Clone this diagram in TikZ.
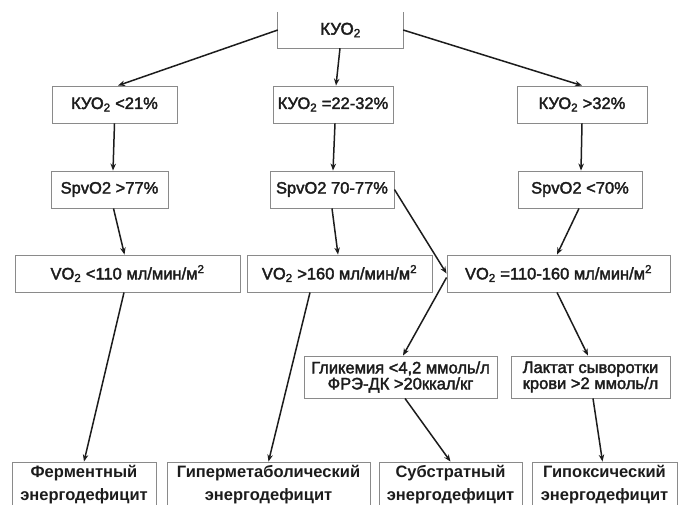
\documentclass[tikz,border=0pt]{standalone}
\usepackage{fontspec}
\setmainfont{Liberation Sans}[FakeBold=2.2]
\newfontfamily\endfont{Liberation Sans}
\usetikzlibrary{arrows.meta}
\definecolor{boxgray}{HTML}{8A8A8A}
\definecolor{ink}{HTML}{1C1C1C}
\tikzset{
  box/.style={draw=boxgray, line width=0.9pt, text=ink, inner sep=0pt, align=center,
    font=\fontsize{16.5}{16}\selectfont},
  openbox/.style={draw=none, text=ink, inner sep=0pt, align=center,
    font=\fontsize{17}{17}\selectfont},
  endbox/.style={draw=boxgray, line width=0.9pt, text=ink, inner sep=0pt, align=center,
    font=\endfont\bfseries\fontsize{16.5}{23}\selectfont},
  arr/.style={draw=ink, line width=1.5pt, -{Stealth[length=7pt,width=5.5pt]}},
}
\begin{document}
\begin{tikzpicture}[x=1pt,y=-1pt]
\useasboundingbox (0,0) rectangle (678,504);
% row 1
\node[openbox, minimum width=125, minimum height=36] (top) at (340.5,30) {КУО\textsubscript{2}};
\draw[boxgray, line width=0.9pt] (top.north west) -- (top.south west) -- (top.south east) -- (top.north east);
% row 2
\node[box, minimum width=125, minimum height=37] (b1) at (114.5,104.5) {КУО\textsubscript{2} <21\%};
\node[box, minimum width=120, minimum height=37] (b2) at (333,104.5) {КУО\textsubscript{2} =22-32\%};
\node[box, minimum width=130, minimum height=37] (b3) at (582,104.5) {КУО\textsubscript{2} >32\%};
% row 3
\node[box, minimum width=117, minimum height=37] (s1) at (109.5,189.5) {SpvO2 >77\%};
\node[box, minimum width=124, minimum height=37] (s2) at (332,189.5) {SpvO2 70-77\%};
\node[box, minimum width=124, minimum height=37] (s3) at (580,189.5) {SpvO2 <70\%};
% row 4
\node[box, minimum width=225, minimum height=37] (v1) at (127.5,273.5) {VO\textsubscript{2} <110 мл/мин/м\textsuperscript{2}};
\node[box, minimum width=185, minimum height=37] (v2) at (339.5,273.5) {VO\textsubscript{2} >160 мл/мин/м\textsuperscript{2}};
\node[box, minimum width=223, minimum height=37] (v3) at (558.5,273.5) {VO\textsubscript{2} =110-160 мл/мин/м\textsuperscript{2}};
% row 5
\node[box, minimum width=193, minimum height=42] (g) at (400.5,377) {Гликемия <4,2 ммоль/л\\ФРЭ-ДК >20ккал/кг};
\node[box, minimum width=159, minimum height=42] (l) at (590.5,377) {Лактат сыворотки\\крови >2 ммоль/л};
% row 6
\node[endbox, minimum width=144, minimum height=46] (f1) at (84,485) {Ферментный\\энергодефицит};
\node[endbox, minimum width=203, minimum height=46] (f2) at (268.5,485) {Гиперметаболический\\энергодефицит};
\node[endbox, minimum width=143, minimum height=46] (f3) at (450.5,485) {Субстратный\\энергодефицит};
\node[endbox, minimum width=145, minimum height=46] (f4) at (604.5,485) {Гипоксический\\энергодефицит};
% connectors
\draw[arr] (top.west) -- ([xshift=3.5]b1.north);
\draw[arr] ([xshift=-0.5]top.south) -- ([xshift=3]b2.north);
\draw[arr] (top.east) -- (b3.north);
\draw[arr] (b1.south) -- ([xshift=3.5]s1.north);
\draw[arr] ([xshift=2]b2.south) -- ([xshift=1]s2.north);
\draw[arr] (b3.south) -- ([xshift=1]s3.north);
\draw[arr] ([xshift=4]s1.south) -- ([xshift=-3]v1.north);
\draw[arr] (s2.south) -- ([xshift=-1.5]v2.north);
\draw[arr] (s2.east) -- (v3.west);
\draw[arr] ([xshift=-1]s3.south) -- ([xshift=-1.5]v3.north);
\draw[arr] ([xshift=-3.5]v1.south) -- (f1.north);
\draw[arr] ([xshift=-29.5]v2.south) -- (f2.north);
\draw[arr] ([yshift=-4]v3.west) -- ([xshift=2.5]g.north);
\draw[arr] ([xshift=-1.5]v3.south) -- ([xshift=-2.5]l.north);
\draw[arr] ([xshift=4.5]g.south) -- (f3.north);
\draw[arr] ([xshift=2.5]l.south) -- ([xshift=-2]f4.north);
\end{tikzpicture}
\end{document}
